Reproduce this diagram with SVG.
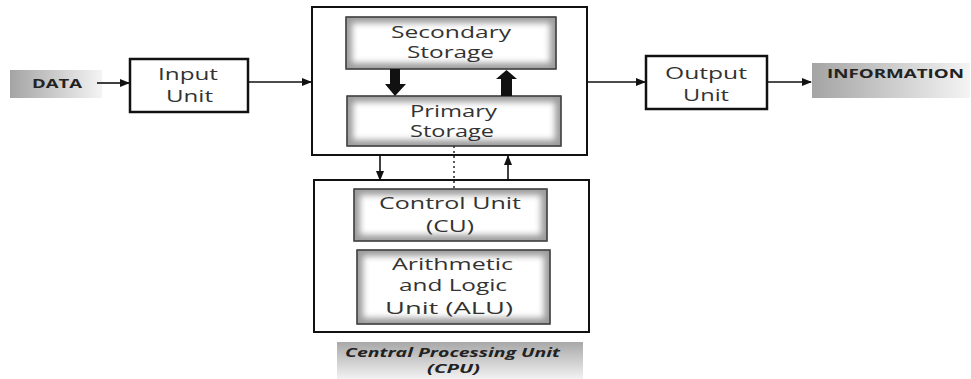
<svg xmlns="http://www.w3.org/2000/svg" width="971" height="379" viewBox="0 0 971 379">
<defs>
<style>
.box{fill:#fff;stroke:#111;stroke-width:2.5}
.frame{fill:#fff;stroke:#111;stroke-width:2}
.t{font-family:"Open Sans","Liberation Sans",sans-serif;font-size:16px;fill:#333;text-anchor:middle}
.tb{font-family:"Open Sans","Liberation Sans",sans-serif;font-weight:bold;fill:#222;text-anchor:middle}
.tbi{font-family:"Open Sans","Liberation Sans",sans-serif;font-weight:bold;font-style:italic;font-size:12px;fill:#222;text-anchor:middle}
.ln{stroke:#111;stroke-width:1.6;fill:none}
.shade{fill:#9c9c9c;stroke:#444;stroke-width:1.2}
.glow{fill:#fff;filter:url(#blur)}
.edge{fill:none;stroke:#444;stroke-width:1.2}
</style>
<linearGradient id="gH" x1="0" y1="0" x2="1" y2="0">
<stop offset="0" stop-color="#a4a4a4"/>
<stop offset="1" stop-color="#f4f4f4"/>
</linearGradient>
<linearGradient id="gV" x1="0" y1="0" x2="0" y2="1">
<stop offset="0" stop-color="#a8a8a8"/>
<stop offset="1" stop-color="#f2f2f2"/>
</linearGradient>
<filter id="blur" x="-20%" y="-50%" width="140%" height="200%">
<feGaussianBlur stdDeviation="3"/>
</filter>
<marker id="ah" markerWidth="10" markerHeight="8" refX="9" refY="4" orient="auto" markerUnits="userSpaceOnUse">
<path d="M0,0 L10,4 L0,8 Z" fill="#111"/>
</marker>
</defs>

<g id="data">
<rect x="10" y="70" width="92" height="28" fill="url(#gH)"/>
<text class="tb" x="57" y="88" font-size="12.5" textLength="50" lengthAdjust="spacingAndGlyphs">DATA</text>
</g>

<g id="input-unit">
<rect class="box" x="130" y="59" width="118" height="53"/>
<text class="t" x="188" y="80" textLength="60" lengthAdjust="spacingAndGlyphs">Input</text>
<text class="t" x="189.5" y="102" textLength="47" lengthAdjust="spacingAndGlyphs">Unit</text>
</g>

<g id="memory">
<rect class="frame" x="312" y="7" width="275" height="148"/>
</g>

<g id="secondary-storage">
<rect class="shade" x="346" y="17" width="210" height="52"/>
<rect class="glow" x="352" y="23" width="198" height="40"/>
<rect class="edge" x="346" y="17" width="210" height="52"/>
<text class="t" x="451" y="38" textLength="120" lengthAdjust="spacingAndGlyphs">Secondary</text>
<text class="t" x="450.5" y="58" textLength="87" lengthAdjust="spacingAndGlyphs">Storage</text>
</g>

<g id="primary-storage">
<rect class="shade" x="347" y="96" width="214" height="50"/>
<rect class="glow" x="353" y="102" width="202" height="38"/>
<rect class="edge" x="347" y="96" width="214" height="50"/>
<text class="t" x="453.5" y="117" textLength="87" lengthAdjust="spacingAndGlyphs">Primary</text>
<text class="t" x="452" y="137" textLength="84" lengthAdjust="spacingAndGlyphs">Storage</text>
</g>

<g id="cpu">
<rect class="frame" x="314" y="180" width="275" height="152"/>
</g>

<g id="control-unit">
<rect class="shade" x="354" y="189" width="193" height="52"/>
<rect class="glow" x="360" y="195" width="181" height="40"/>
<rect class="edge" x="354" y="189" width="193" height="52"/>
<text class="t" x="450" y="209" textLength="142" lengthAdjust="spacingAndGlyphs">Control Unit</text>
<text class="t" x="450" y="232" textLength="48" lengthAdjust="spacingAndGlyphs">(CU)</text>
</g>

<g id="alu">
<rect class="shade" x="357" y="250" width="193" height="74"/>
<rect class="glow" x="363" y="256" width="181" height="62"/>
<rect class="edge" x="357" y="250" width="193" height="74"/>
<text class="t" x="452.5" y="270" textLength="121" lengthAdjust="spacingAndGlyphs">Arithmetic</text>
<text class="t" x="453" y="291" textLength="108" lengthAdjust="spacingAndGlyphs">and Logic</text>
<text class="t" x="449" y="314" textLength="128" lengthAdjust="spacingAndGlyphs">Unit (ALU)</text>
</g>

<g id="cpu-label">
<rect x="337" y="342" width="246" height="37" fill="url(#gV)"/>
<text class="tbi" x="452.5" y="357" textLength="215" lengthAdjust="spacingAndGlyphs">Central Processing Unit</text>
<text class="tbi" x="453.5" y="373" textLength="53" lengthAdjust="spacingAndGlyphs">(CPU)</text>
</g>

<g id="output-unit">
<rect class="box" x="646" y="56" width="121" height="53"/>
<text class="t" x="706" y="79" textLength="82" lengthAdjust="spacingAndGlyphs">Output</text>
<text class="t" x="706" y="101" textLength="46" lengthAdjust="spacingAndGlyphs">Unit</text>
</g>

<g id="information">
<rect x="812" y="63" width="158" height="35" fill="url(#gH)"/>
<text class="tb" x="895.5" y="78" font-size="11.5" textLength="137" lengthAdjust="spacingAndGlyphs">INFORMATION</text>
</g>

<g id="connectors">
<line class="ln" x1="97" y1="83" x2="129" y2="83" marker-end="url(#ah)"/>
<line class="ln" x1="249" y1="82" x2="311" y2="82" marker-end="url(#ah)"/>
<line class="ln" x1="588" y1="82" x2="645" y2="82" marker-end="url(#ah)"/>
<line class="ln" x1="768" y1="82" x2="811" y2="82" marker-end="url(#ah)"/>
<polygon points="390,69 400,69 400,84 406,84 395,96 385,84 390,84" fill="#111"/>
<polygon points="501,96 512,96 512,79 517,79 506.5,70 496,79 501,79" fill="#111"/>
<line class="ln" x1="380" y1="155" x2="380" y2="180" marker-end="url(#ah)"/>
<line class="ln" x1="508" y1="181" x2="508" y2="156" marker-end="url(#ah)"/>
<line x1="454" y1="146" x2="454" y2="189" stroke="#333" stroke-width="1.6" stroke-dasharray="2,3"/>
</g>
</svg>
